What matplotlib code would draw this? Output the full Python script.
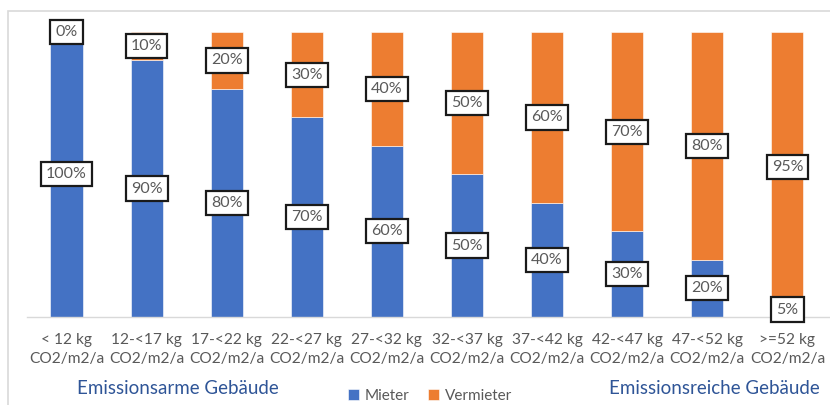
import matplotlib.pyplot as plt
from matplotlib.patches import Rectangle

# data
categories = ['< 12 kg\nCO2/m2/a', '12-<17 kg\nCO2/m2/a', '17-<22 kg\nCO2/m2/a',
              '22-<27 kg\nCO2/m2/a', '27-<32 kg\nCO2/m2/a', '32-<37 kg\nCO2/m2/a',
              '37-<42 kg\nCO2/m2/a', '42-<47 kg\nCO2/m2/a', '47-<52 kg\nCO2/m2/a',
              '>=52 kg\nCO2/m2/a']
mieter = [100, 90, 80, 70, 60, 50, 40, 30, 20, 5]
vermieter = [0, 10, 20, 30, 40, 50, 60, 70, 80, 95]

BLUE = '#4472C4'
ORANGE = '#ED7D31'
GRAY = '#595959'
TITLE_BLUE = '#2F5597'

plt.rcParams['font.family'] = ['Lato', 'DejaVu Sans']

W, H = 830, 405
fig = plt.figure(figsize=(W / 100, H / 100), dpi=100)

# axes placed in pixels: baseline at y=316.7, 100% at y=32
ax_left, ax_right = 27, 830
ax_top, ax_bottom = 32, 316.7
ax = fig.add_axes([ax_left / W, (H - ax_bottom) / H,
                   (ax_right - ax_left) / W, (ax_bottom - ax_top) / H])

x = list(range(len(categories)))
ax.bar(x, mieter, width=0.4, color=BLUE, edgecolor='white', linewidth=0.4, label='Mieter', zorder=2)
ax.bar(x, vermieter, width=0.4, bottom=mieter, color=ORANGE, edgecolor='white', linewidth=0.4,
       label='Vermieter', zorder=2)

box = dict(boxstyle='square,pad=0.32', facecolor='white', edgecolor='#1a1a1a', linewidth=1.6)
for i in x:
    ax.text(i, mieter[i] / 2, f'{mieter[i]}%', ha='center', va='center', fontsize=11.5,
            color=GRAY, bbox=box, zorder=5, clip_on=False)
    ax.text(i, mieter[i] + vermieter[i] / 2, f'{vermieter[i]}%', ha='center', va='center',
            fontsize=11.5, color=GRAY, bbox=box, zorder=5, clip_on=False)

ax.set_xlim((ax_left - 66.5) / 80.1, (ax_right - 66.5) / 80.1)
ax.set_ylim(0, 100)
ax.set_xticks(x)
ax.set_xticklabels(categories, fontsize=11.2, color=GRAY, linespacing=1.45)
ax.tick_params(axis='x', length=0, pad=12)
ax.set_yticks([])
for s in ['top', 'right', 'left']:
    ax.spines[s].set_visible(False)
ax.spines['bottom'].set_color('#D9D9D9')
ax.spines['bottom'].set_linewidth(1.0)

# group labels under the axis
fig.text(178 / W, 1 - 388 / H, 'Emissionsarme Gebäude', ha='center', va='center',
         fontsize=13.5, color=TITLE_BLUE)
fig.text(714 / W, 1 - 388 / H, 'Emissionsreiche Gebäude', ha='center', va='center',
         fontsize=13.5, color=TITLE_BLUE)

fig.legend(loc='center', bbox_to_anchor=(430 / W, 1 - 396 / H), ncol=2, frameon=False,
           fontsize=11, labelcolor=GRAY, handlelength=0.7, handleheight=0.7,
           handletextpad=0.4, columnspacing=1.2, borderpad=0.1)

# chart area border (light gray), runs off the right and bottom edge
fig.add_artist(Rectangle((8 / W, -0.05), 1.1, 1 - 11 / H + 0.05, transform=fig.transFigure,
                         fill=False, edgecolor='#D9D9D9', linewidth=1.2, clip_on=False))

fig.savefig('out.png', dpi=100)
